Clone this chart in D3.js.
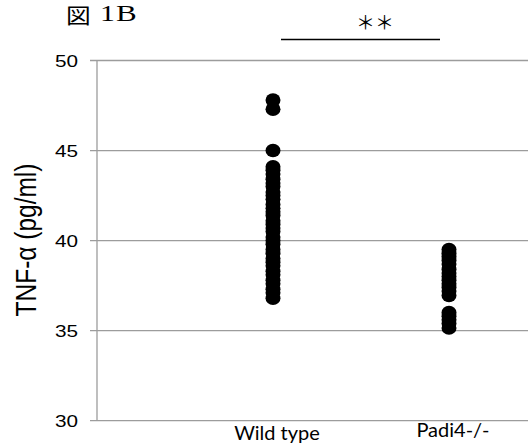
<!DOCTYPE html>
<html>
<head>
<meta charset="utf-8">
<script src="https://cdn.jsdelivr.net/npm/d3@7"></script>
<style>
  body { margin: 0; background: #fff; }
  svg { display: block; }
</style>
</head>
<body>
<div id="chart"></div>
<script>
// data
var categories = ["Wild type", "Padi4-/-"];
var wildType = [47.8, 47.3, 45.0,
  44.1, 43.9, 43.7, 43.4, 43.2, 43.0, 42.7, 42.5, 42.3, 42.0, 41.8, 41.6,
  41.4, 41.1, 40.9, 40.7, 40.5, 40.2, 40.0, 39.8, 39.5, 39.3, 39.0, 38.8,
  38.6, 38.3, 38.1, 37.8, 37.6, 37.3, 37.1, 36.8];
var padi4 = [39.5, 39.3, 39.1, 38.9, 38.7, 38.4, 38.2, 38.0, 37.8, 37.6,
  37.4, 37.2, 36.95, 36.0, 35.8, 35.6, 35.4, 35.15];
var yTicks = [30, 35, 40, 45, 50];

var width = 528, height = 444;
var plot = {left: 97, top: 60.5, bottom: 420.7};

var svg = d3.select("#chart")
  .append("svg")
  .attr("width", width)
  .attr("height", height);

// scales
var y = d3.scaleLinear()
  .domain([30, 50])
  .range([plot.bottom, plot.top]);

var x = d3.scalePoint()
  .domain(categories)
  .range([plot.left, plot.left + 528])
  .padding(1);

// horizontal gridlines
svg.append("g")
  .selectAll("line")
  .data(yTicks)
  .enter()
  .append("line")
    .attr("x1", plot.left - 7)
    .attr("x2", width)
    .attr("y1", function(d) { return y(d); })
    .attr("y2", function(d) { return y(d); })
    .style("stroke", "#9c9c9c")
    .style("stroke-width", 1.3);

// y axis line
svg.append("line")
  .attr("x1", plot.left).attr("x2", plot.left)
  .attr("y1", y(50)).attr("y2", y(30))
  .style("stroke", "#9c9c9c")
  .style("stroke-width", 1.3);

// y tick labels (the original figure is stretched sideways)
svg.append("g")
  .selectAll("text")
  .data(yTicks)
  .enter()
  .append("text")
    .attr("transform", function(d) {
      return "translate(78," + (y(d) + 6) + ") scale(1.22,1)";
    })
    .attr("text-anchor", "end")
    .style("font-family", "Liberation Sans, Arial, sans-serif")
    .style("font-size", "17px")
    .style("fill", "#000")
    .text(function(d) { return d; });

// y axis title
svg.append("text")
  .attr("transform", "translate(36,240) scale(1.2,1) rotate(-90)")
  .attr("text-anchor", "middle")
  .style("font-family", "Liberation Sans, Arial, sans-serif")
  .style("font-size", "24.5px")
  .text("TNF-α (pg/ml)");

// category labels
svg.append("g")
  .selectAll("text")
  .data(categories)
  .enter()
  .append("text")
    .attr("x", function(d) { return x(d) + 4; })
    .attr("y", function(d, i) { return i == 0 ? 440 : 437; })
    .attr("text-anchor", "middle")
    .style("font-family", "Lato, Open Sans, sans-serif")
    .style("font-size", "20px")
    .text(function(d) { return d; });

// dots
var groups = [wildType, padi4];
groups.forEach(function(vals, i) {
  svg.append("g")
    .selectAll("ellipse")
    .data(vals)
    .enter()
    .append("ellipse")
      .attr("cx", x(categories[i]))
      .attr("cy", function(d) { return y(d); })
      .attr("rx", 7.5)
      .attr("ry", 6.8)
      .style("fill", "#000");
});

// significance bar
svg.append("line")
  .attr("x1", x(categories[0]) + 8)
  .attr("x2", x(categories[1]) - 9)
  .attr("y1", 39.5).attr("y2", 39.5)
  .style("stroke", "#000")
  .style("stroke-width", 1.6);

svg.append("text")
  .attr("x", 375)
  .attr("y", 30)
  .attr("text-anchor", "middle")
  .style("font-family", "Noto Sans CJK JP, sans-serif")
  .style("font-size", "19px")
  .text("＊＊");

// figure title
svg.append("text")
  .attr("transform", "translate(66,23) scale(1.18,1)")
  .style("font-family", "Noto Sans CJK JP")
  .style("font-size", "21px")
  .text("図");
svg.append("text")
  .attr("transform", "translate(100,21) scale(1.3,1)")
  .style("font-family", "Liberation Serif, serif")
  .style("font-size", "23px")
  .text("1");
svg.append("text")
  .attr("transform", "translate(116,21) scale(1.35,1)")
  .style("font-family", "Liberation Serif, serif")
  .style("font-size", "23px")
  .text("B");
</script>
</body>
</html>
